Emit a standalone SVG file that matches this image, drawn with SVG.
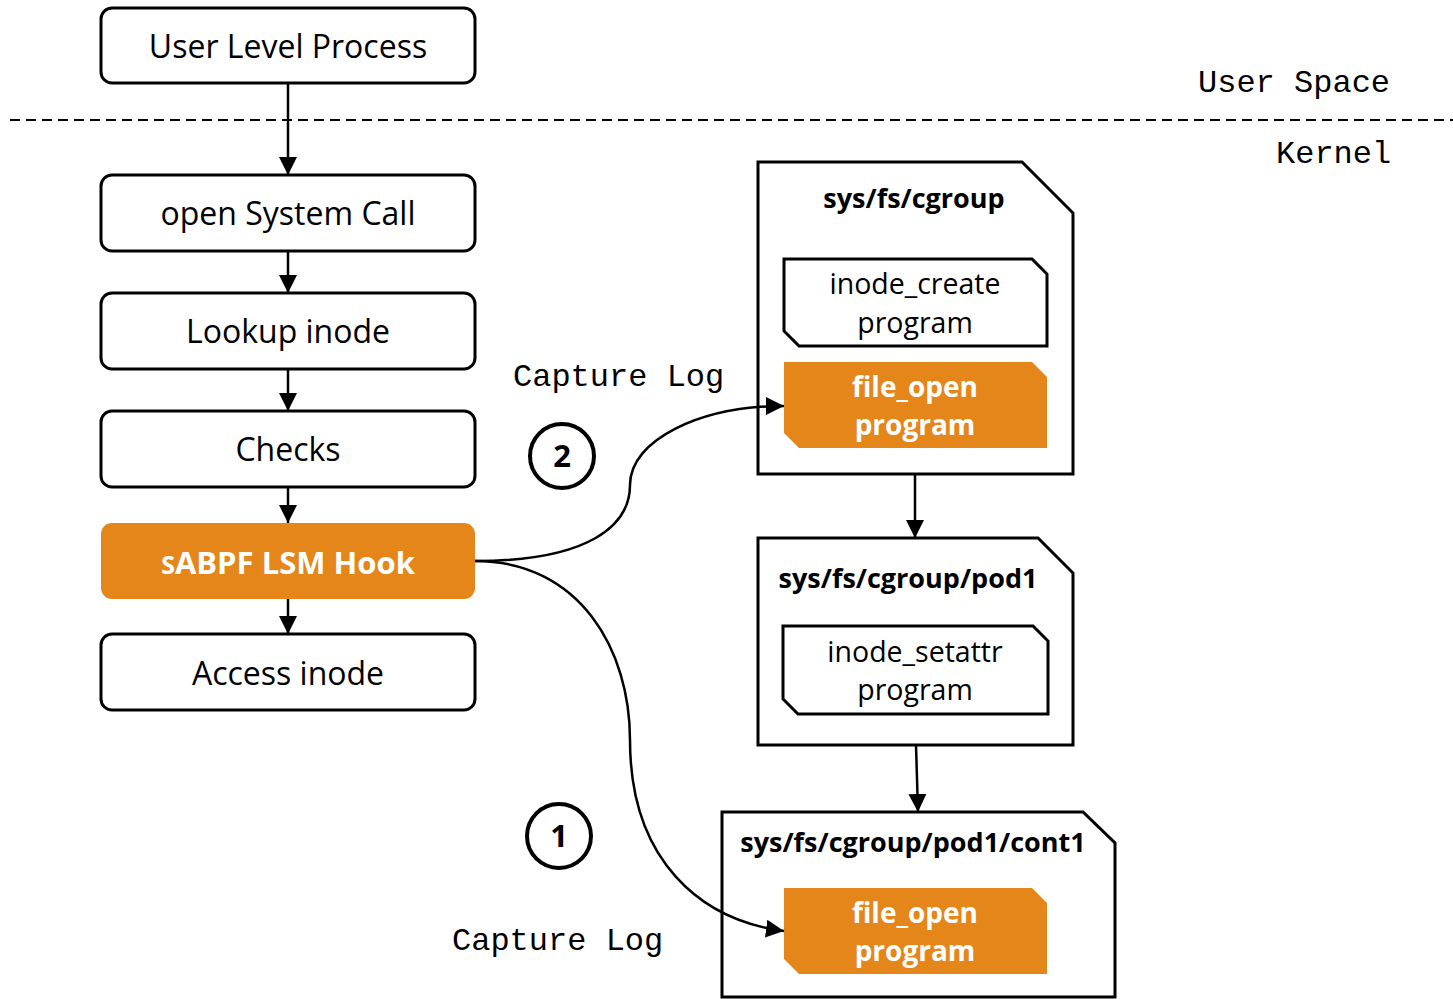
<svg xmlns="http://www.w3.org/2000/svg" width="1453" height="999" viewBox="0 0 1453 999">
<defs>
<marker id="ahs" viewBox="0 0 10 10" refX="10" refY="5" markerWidth="18" markerHeight="18" markerUnits="userSpaceOnUse" orient="auto">
<path d="M0,0 L10,5 L0,10 z" fill="#000"/>
</marker>
</defs>
<style>
.box{fill:#fff;stroke:#000;stroke-width:3}
.hook{fill:#E5861A}
.t{font-family:"Open Sans","Noto Sans",sans-serif;font-size:32px;fill:#000;text-anchor:middle}
.tw{font-family:"Open Sans","Noto Sans",sans-serif;font-size:31px;font-weight:bold;fill:#fff;text-anchor:middle}
.tb{font-family:"Open Sans","Noto Sans",sans-serif;font-size:27px;font-weight:bold;fill:#000;text-anchor:middle}
.tp{font-family:"Open Sans","Noto Sans",sans-serif;font-size:28.5px;fill:#000;text-anchor:middle}
.tpw{font-family:"Open Sans","Noto Sans",sans-serif;font-size:28px;font-weight:bold;fill:#fff;text-anchor:middle}
.m{font-family:"Liberation Mono","Courier New",monospace;font-size:32px;fill:#000}
.ln{fill:none;stroke:#000;stroke-width:2.5}
.prog{fill:#fff;stroke:#000;stroke-width:3}
.progo{fill:#E5861A}
.circ{fill:#fff;stroke:#000;stroke-width:4}
.num{font-family:"Open Sans","Noto Sans",sans-serif;font-size:31px;font-weight:bold;fill:#000;text-anchor:middle}
</style>

<line x1="10" y1="120" x2="1453" y2="120" stroke="#000" stroke-width="2" stroke-dasharray="10,6"/>
<text class="m" x="1198" y="92">User Space</text>
<text class="m" x="1276" y="163">Kernel</text>

<g id="user-level-process">
<rect class="box" x="101" y="8" width="374" height="75" rx="11"/>
<text class="t" x="288" y="58">User Level Process</text>
</g>
<g id="open-system-call">
<rect class="box" x="101" y="175" width="374" height="76" rx="11"/>
<text class="t" x="288" y="225">open System Call</text>
</g>
<g id="lookup-inode">
<rect class="box" x="101" y="293" width="374" height="76" rx="11"/>
<text class="t" x="288" y="343">Lookup inode</text>
</g>
<g id="checks">
<rect class="box" x="101" y="411" width="374" height="76" rx="11"/>
<text class="t" x="288" y="461">Checks</text>
</g>
<g id="sabpf-lsm-hook">
<rect class="hook" x="101" y="523" width="374" height="76" rx="11"/>
<text class="tw" x="288" y="574"><tspan font-size="25">S</tspan>ABPF LSM Hook</text>
</g>
<g id="access-inode">
<rect class="box" x="101" y="634" width="374" height="76" rx="11"/>
<text class="t" x="288" y="685">Access inode</text>
</g>

<g id="cgroup">
<path class="box" d="M758,162 H1022 L1073,213 V474 H758 Z"/>
<text class="tb" x="914" y="208">sys/fs/cgroup</text>
<path class="prog" d="M784,259 H1032 L1047,274 V346 H799 L784,331 Z"/>
<text class="tp" x="915" y="294">inode_create</text>
<text class="tp" x="915" y="333">program</text>
<path class="progo" d="M784,362 H1032 L1047,377 V448 H799 L784,433 Z"/>
<text class="tpw" x="915" y="397">file_open</text>
<text class="tpw" x="915" y="435">program</text>
</g>

<g id="pod1">
<path class="box" d="M758,538 H1038 L1073,573 V745 H758 Z"/>
<text class="tb" x="908" y="588">sys/fs/cgroup/pod1</text>
<path class="prog" d="M783,626 H1033 L1048,641 V714 H798 L783,699 Z"/>
<text class="tp" x="915" y="662">inode_setattr</text>
<text class="tp" x="915" y="700">program</text>
</g>

<g id="cont1">
<path class="box" d="M722,812 H1083 L1115,843 V997 H722 Z"/>
<text class="tb" x="913" y="852">sys/fs/cgroup/pod1/cont1</text>
<path class="progo" d="M784,888 H1032 L1047,903 V974 H799 L784,959 Z"/>
<text class="tpw" x="915" y="923">file_open</text>
<text class="tpw" x="915" y="961">program</text>
</g>

<g id="badge-2">
<circle class="circ" cx="562" cy="456" r="32"/>
<text class="num" x="562" y="467">2</text>
</g>
<g id="badge-1">
<circle class="circ" cx="559" cy="836" r="32"/>
<text class="num" x="559" y="847">1</text>
</g>
<text class="m" x="513" y="386">Capture Log</text>
<text class="m" x="452" y="950">Capture Log</text>

<g id="connectors">
<line class="ln" x1="288" y1="83" x2="288" y2="175" marker-end="url(#ahs)"/>
<line class="ln" x1="288" y1="251" x2="288" y2="293" marker-end="url(#ahs)"/>
<line class="ln" x1="288" y1="369" x2="288" y2="411" marker-end="url(#ahs)"/>
<line class="ln" x1="288" y1="487" x2="288" y2="523" marker-end="url(#ahs)"/>
<line class="ln" x1="288" y1="599" x2="288" y2="634" marker-end="url(#ahs)"/>
<line class="ln" x1="915" y1="474" x2="915" y2="538" marker-end="url(#ahs)"/>
<line class="ln" x1="916" y1="745" x2="918" y2="812" marker-end="url(#ahs)"/>
<path class="ln" d="M475,561 C590,561 630,525 630,485 C630,440 700,406 784,406" marker-end="url(#ahs)"/>
<path class="ln" d="M475,561 C580,561 630,650 630,740 C630,860 700,920 784,931" marker-end="url(#ahs)"/>
</g>
</svg>
